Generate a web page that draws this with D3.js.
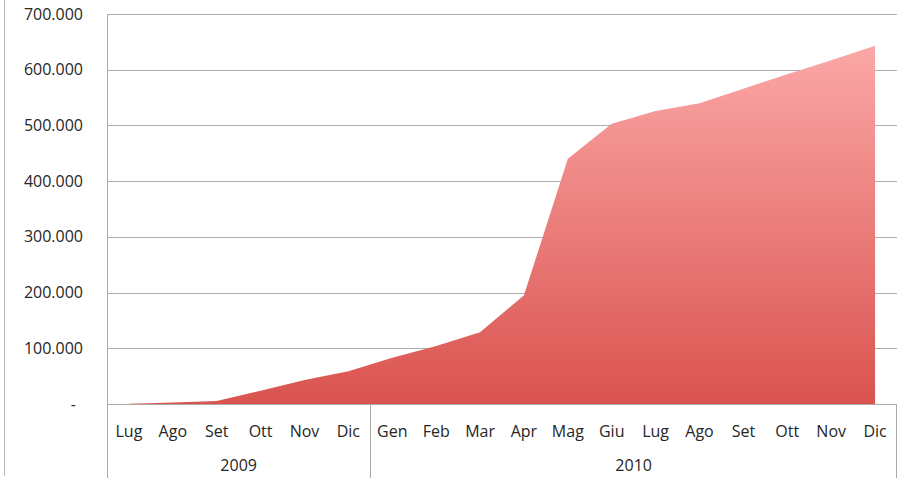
<!DOCTYPE html>
<html><head><meta charset="utf-8">
<script src="https://cdn.jsdelivr.net/npm/d3@7"></script>
<style>
html,body{margin:0;padding:0;background:#fff;}
svg text{font-family:"Open Sans","Liberation Sans",sans-serif;fill:#262626;}
</style></head>
<body><svg id="c" width="914" height="483"></svg>
<script>
const months = ["Lug","Ago","Set","Ott","Nov","Dic","Gen","Feb","Mar","Apr","Mag","Giu","Lug","Ago","Set","Ott","Nov","Dic"];
const years = ["2009","2010"];
const yearCounts = [6,12];
const values = [500,2500,5500,24000,43000,59000,83000,104000,129000,195000,440000,503000,526000,540000,566000,592000,617000,643000];
const yTicks = [0,100000,200000,300000,400000,500000,600000,700000];

const svg = d3.select("#c");
const L=107, R=897, T=14, B=404;
const keys = months.map((m,i)=>i);
const x = d3.scaleBand().domain(keys).range([L,R]);
const y = d3.scaleLinear().domain([0,700000]).range([B,T]);
const FS = 16;

// outer frame line
svg.append("line").attr("x1",4.5).attr("x2",4.5).attr("y1",0).attr("y2",476).attr("stroke","#bbb");

// gridlines
svg.append("g").selectAll("line").data(yTicks.filter(d=>d>0)).join("line")
  .attr("x1",L).attr("x2",R).attr("y1",d=>Math.round(y(d))+0.5).attr("y2",d=>Math.round(y(d))+0.5)
  .attr("stroke","#adadad").attr("stroke-width",1);

// gradient
const defs = svg.append("defs");
const g = defs.append("linearGradient").attr("id","grad").attr("x1",0).attr("x2",0).attr("y1",0).attr("y2",1);
g.append("stop").attr("offset","0%").attr("stop-color","#fba8a7");
g.append("stop").attr("offset","100%").attr("stop-color","#da534f");

const area = d3.area().x((d,i)=>x(i)+x.bandwidth()/2).y0(B).y1(d=>y(d));
svg.append("path").datum(values).attr("d",area).attr("fill","url(#grad)");

// y axis labels
svg.append("g").selectAll("text").data(yTicks).join("text")
  .attr("x",d=>d===0?76:83).attr("y",d=>y(d)+5.5).attr("text-anchor","end")
  .attr("font-size",FS).text(d=>d===0?"-":d3.format(",")(d).replace(/,/g,"."));

// axes lines
svg.append("line").attr("x1",L).attr("x2",R).attr("y1",B+0.5).attr("y2",B+0.5).attr("stroke","#aaa");
svg.append("line").attr("x1",L+0.5).attr("x2",L+0.5).attr("y1",T).attr("y2",478).attr("stroke","#aaa");
svg.append("line").attr("x1",R-0.5).attr("x2",R-0.5).attr("y1",B).attr("y2",478).attr("stroke","#aaa");
// year divider
let cum=0;
const yearPos = years.map((yr,i)=>{const s=cum; cum+=yearCounts[i]; return {yr,s,e:cum};});
yearPos.slice(1).forEach(p=>{
  const xx = Math.round(x(p.s))+0.5;
  svg.append("line").attr("x1",xx).attr("x2",xx).attr("y1",B).attr("y2",478).attr("stroke","#aaa");
});

// month labels
svg.append("g").selectAll("text").data(keys).join("text")
  .attr("x",i=>x(i)+x.bandwidth()/2).attr("y",437).attr("text-anchor","middle")
  .attr("font-size",FS).text(i=>months[i]);
// year labels
svg.append("g").selectAll("text").data(yearPos).join("text")
  .attr("x",p=>(x(p.s)+x(p.e-1)+x.bandwidth())/2).attr("y",471).attr("text-anchor","middle")
  .attr("font-size",FS).text(p=>p.yr);
</script></body></html>
